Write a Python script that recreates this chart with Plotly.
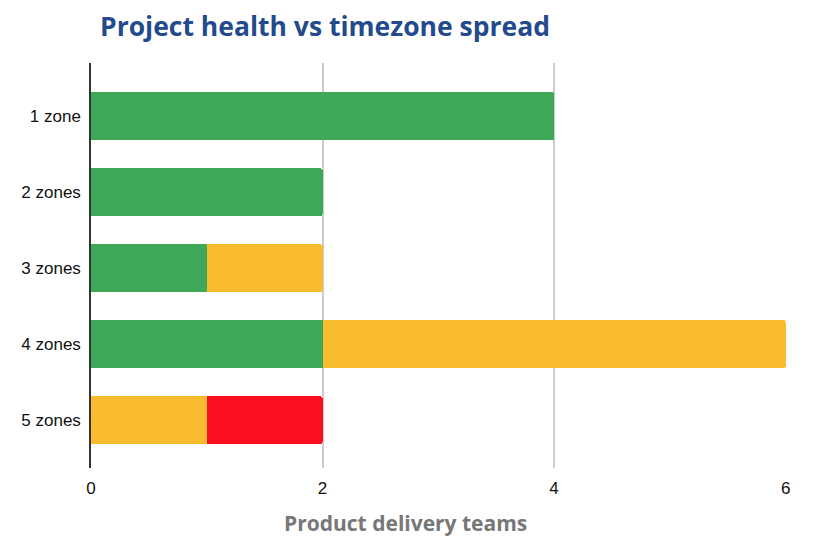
import plotly.graph_objects as go

categories = ["1 zone", "2 zones", "3 zones", "4 zones", "5 zones"]
green_vals = [4, 2, 1, 2, 0]
yellow_vals = [0, 0, 1, 4, 1]
red_vals = [0, 0, 0, 0, 1]
x_ticks = [0, 2, 4, 6]

fig = go.Figure()
for name, vals, color in [("Healthy", green_vals, "#3CA858"),
                          ("At risk", yellow_vals, "#F9BB2F"),
                          ("Unhealthy", red_vals, "#FC0F20")]:
    fig.add_trace(go.Bar(y=categories, x=vals, orientation="h", name=name,
                         marker=dict(color=color, line=dict(width=0)),
                         width=0.63))

fig.update_layout(
    barmode="stack",
    barcornerradius=2,
    width=833, height=550,
    margin=dict(l=83, r=55, t=55, b=90, autoexpand=False),
    paper_bgcolor="white", plot_bgcolor="white",
    showlegend=False,
    title=dict(text="<b>Project health vs timezone spread</b>",
               x=0, xref="paper", xanchor="left", y=0.966, yref="container",
               yanchor="middle", pad=dict(l=9),
               font=dict(family="Open Sans, sans-serif", size=26.5, color="#234A8C")),
    font=dict(family="Liberation Sans, Arial, sans-serif", size=17, color="#111"),
    annotations=[dict(text="<b>Product delivery teams</b>", xref="paper", yref="paper",
                      x=0.452, y=-0.136, xanchor="center", yanchor="middle", showarrow=False,
                      font=dict(family="Open Sans, sans-serif", size=21, color="#777777"))],
)
fig.update_xaxes(range=[0, 6.003], tickvals=x_ticks, showgrid=True, gridcolor="#CCCCCC",
                 gridwidth=1.5, zeroline=False, showline=False, ticks="", automargin=False,
                 ticklabelstandoff=8, tickfont=dict(size=17, color="#111"))
fig.update_yaxes(autorange=False, range=[4.63, -0.7], categoryorder="array", categoryarray=categories,
                 showline=True, linecolor="#333333", linewidth=1.5, ticks="", automargin=False,
                 ticklabelstandoff=5, tickfont=dict(size=17, color="#111"))

fig.write_html("out.html")
